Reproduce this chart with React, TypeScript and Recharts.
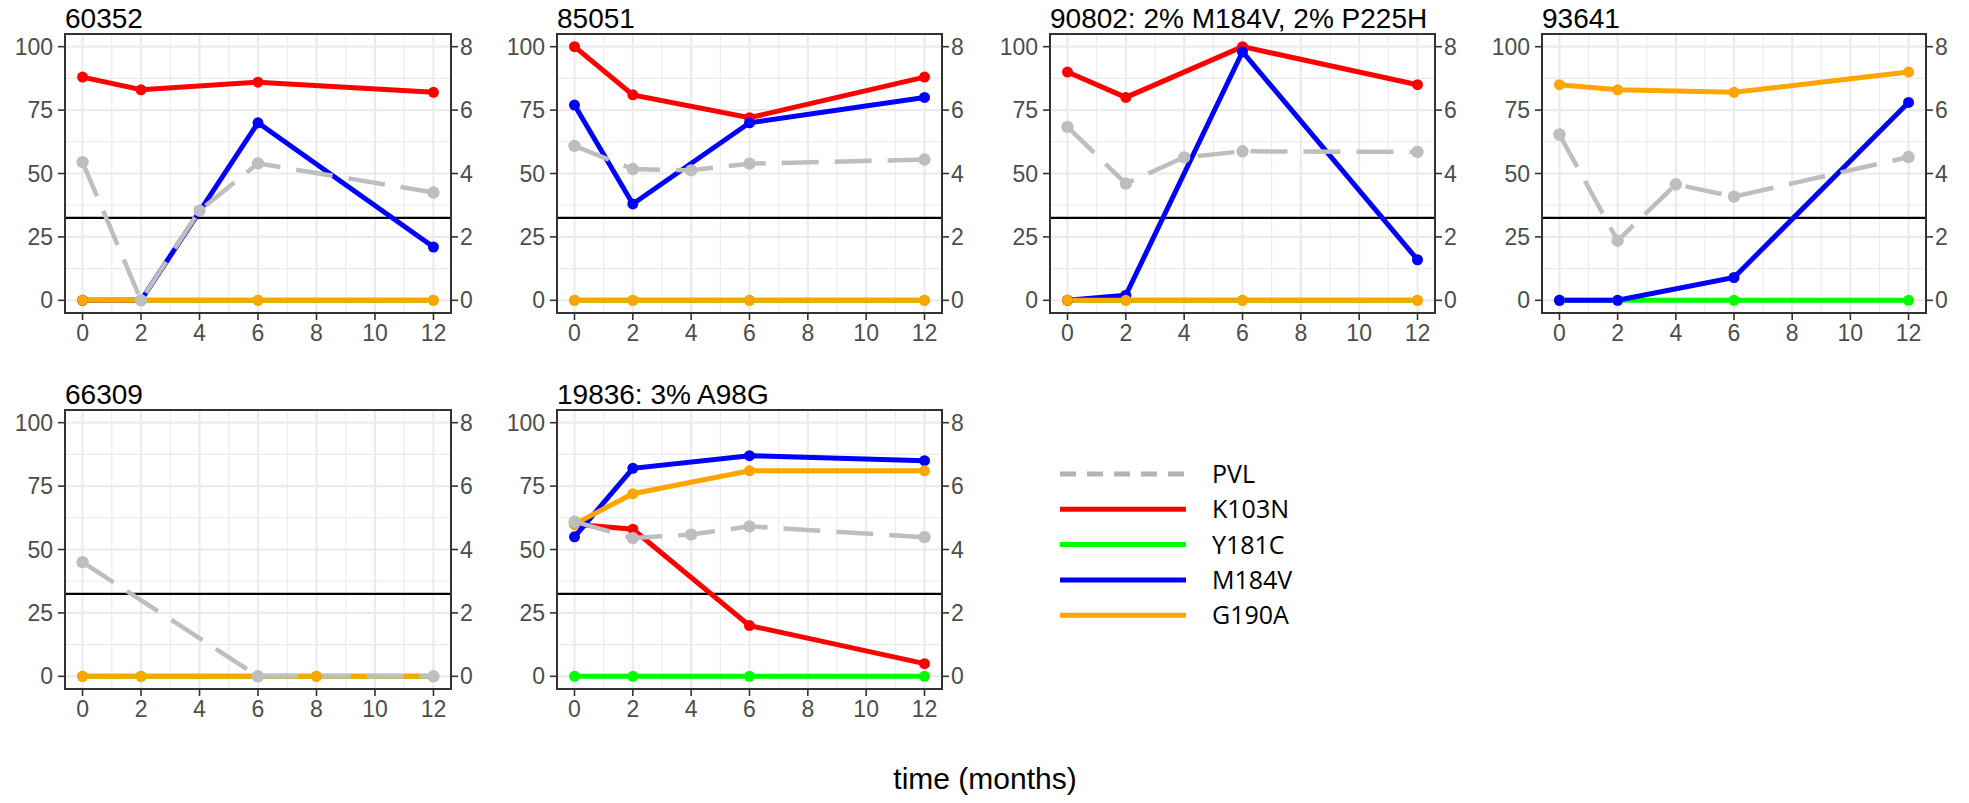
import React from 'react';
import { LineChart, Line, XAxis, YAxis, CartesianGrid, ReferenceLine } from 'recharts';

// one entry per panel, in reading order
const PANEL_TITLES = ['60352', '85051', '90802: 2% M184V, 2% P225H', '93641', '66309', '19836: 3% A98G'];

const TIMES = [
  [0, 2, 4, 6, 12],
  [0, 2, 4, 6, 12],
  [0, 2, 4, 6, 12],
  [0, 2, 4, 6, 12],
  [0, 2, 6, 8, 12],
  [0, 2, 4, 6, 12],
];

// log10 plasma viral load (right axis)
const PVL = [
  [4.36, 0, 2.83, 4.32, 3.4],
  [4.87, 4.14, 4.1, 4.31, 4.44],
  [5.47, 3.68, 4.51, 4.7, 4.68],
  [5.23, 1.88, 3.66, 3.27, 4.52],
  [3.6, null, 0, null, 0],
  [4.88, 4.36, 4.47, 4.73, 4.39],
];

// mutation frequencies in % (left axis)
const K103N = [
  [88, 83, null, 86, 82],
  [100, 81, null, 72, 88],
  [90, 80, null, 100, 85],
  [0, null, null, null, null],
  [null, null, null, null, null],
  [60, 58, null, 20, 5],
];
const Y181C = [
  [0, 0, null, 0, 0],
  [0, 0, null, 0, 0],
  [0, 0, null, 0, 0],
  [0, 0, null, 0, 0],
  [0, 0, 0, 0, 0],
  [0, 0, null, 0, 0],
];
const M184V = [
  [0, 0, null, 70, 21],
  [77, 38, null, 70, 80],
  [0, 2, null, 98, 16],
  [0, 0, null, 9, 78],
  [null, null, null, null, null],
  [55, 82, null, 87, 85],
];
const G190A = [
  [0, 0, null, 0, 0],
  [0, 0, null, 0, 0],
  [0, 0, null, 0, 0],
  [85, 83, null, 82, 90],
  [0, 0, 0, 0, 0],
  [60, 72, null, 81, 81],
];

const X_TICKS = [0, 2, 4, 6, 8, 10, 12];
const X_MINOR = [1, 3, 5, 7, 9, 11];
const PCT_TICKS = [0, 25, 50, 75, 100];
const PCT_MINOR = [12.5, 37.5, 62.5, 87.5];
const LOG_TICKS = [0, 2, 4, 6, 8];
const PVL_THRESHOLD = 2.6;

const MUTATIONS = [
  { key: 'K103N', values: K103N, color: '#ff0000' },
  { key: 'Y181C', values: Y181C, color: '#00ff00' },
  { key: 'M184V', values: M184V, color: '#0000ff' },
  { key: 'G190A', values: G190A, color: '#ffa500' },
];
const PVL_COLOR = '#bebebe';

const FONT = '"Liberation Sans", Arial, sans-serif';
const COL_LEFT = [65, 557, 1050, 1542];
const COL_WIDTH = [386, 385, 385, 384];
const ROW_TOP = [34, 410];
const PLOT_H = 279;
const AXIS_L = 70;
const AXIS_R = 45;
const AXIS_B = 45;

const tickStyle = { fill: '#4d4d4d', fontSize: 23, fontFamily: FONT };
const tickLine = { stroke: '#333333', strokeWidth: 1.6 };

function Panel({ index }: { index: number }) {
  const col = index % 4;
  const row = Math.floor(index / 4);
  const left = COL_LEFT[col];
  const top = ROW_TOP[row];
  const w = COL_WIDTH[col];

  const data = TIMES[index].map((t, i) => {
    const d: any = { time: t, PVL: PVL[index][i] };
    MUTATIONS.forEach((m) => {
      d[m.key] = m.values[index][i];
    });
    return d;
  });

  return (
    <>
      <div
        style={{
          position: 'absolute',
          left,
          top: top - 28.7,
          fontSize: 28,
          lineHeight: '28px',
          fontFamily: FONT,
          color: '#000',
          whiteSpace: 'nowrap',
        }}
      >
        {PANEL_TITLES[index]}
      </div>
      <div style={{ position: 'absolute', left: left - AXIS_L, top }}>
        <LineChart
          width={AXIS_L + w + AXIS_R}
          height={PLOT_H + AXIS_B}
          data={data}
          margin={{ top: 0, right: 0, bottom: 0, left: 0 }}
        >
          <CartesianGrid
            yAxisId="pct"
            stroke="#ebebeb"
            strokeWidth={1.1}
            horizontalValues={PCT_MINOR}
            verticalValues={X_MINOR}
          />
          <CartesianGrid
            yAxisId="pct"
            stroke="#ebebeb"
            strokeWidth={2.2}
            horizontalValues={PCT_TICKS}
            verticalValues={X_TICKS}
          />
          <XAxis
            dataKey="time"
            type="number"
            domain={[-0.6, 12.6]}
            ticks={X_TICKS}
            height={AXIS_B}
            axisLine={false}
            tickLine={tickLine}
            tickSize={7}
            tickMargin={5}
            tick={tickStyle}
            interval={0}
          />
          <YAxis
            yAxisId="pct"
            type="number"
            domain={[-5, 105]}
            ticks={PCT_TICKS}
            width={AXIS_L}
            axisLine={false}
            tickLine={tickLine}
            tickSize={7}
            tickMargin={5}
            tick={tickStyle}
            interval={0}
          />
          <YAxis
            yAxisId="log"
            orientation="right"
            type="number"
            domain={[-0.4, 8.4]}
            ticks={LOG_TICKS}
            width={AXIS_R}
            axisLine={false}
            tickLine={tickLine}
            tickSize={7}
            tickMargin={2}
            tick={tickStyle}
            interval={0}
          />
          <ReferenceLine yAxisId="log" y={PVL_THRESHOLD} stroke="#000" strokeWidth={2.2} />
          {MUTATIONS.map((m) => (
            <Line
              key={m.key}
              yAxisId="pct"
              dataKey={m.key}
              stroke={m.color}
              strokeWidth={5}
              dot={{ r: 5.5, fill: m.color, stroke: m.color, strokeWidth: 0 }}
              activeDot={false}
              connectNulls
              isAnimationActive={false}
            />
          ))}
          <Line
            yAxisId="log"
            dataKey="PVL"
            stroke={PVL_COLOR}
            strokeWidth={4.5}
            strokeDasharray="37 16"
            dot={{ r: 6.2, fill: PVL_COLOR, stroke: PVL_COLOR, strokeWidth: 0 }}
            activeDot={false}
            connectNulls
            isAnimationActive={false}
          />
        </LineChart>
      </div>
      <div
        style={{
          position: 'absolute',
          left: left - 1,
          top: top - 1,
          width: w + 2,
          height: PLOT_H + 2,
          border: '2px solid #333333',
          boxSizing: 'border-box',
          pointerEvents: 'none',
        }}
      />
    </>
  );
}

function SharedLegend() {
  const items = [
    { key: 'PVL', color: '#b3b3b3', dash: '16 11' },
    ...MUTATIONS.map((m) => ({ key: m.key, color: m.color, dash: undefined as string | undefined })),
  ];
  return (
    <svg style={{ position: 'absolute', left: 1040, top: 450 }} width={320} height={190}>
      {items.map((it, i) => {
        const y = 24 + i * 35.3;
        return (
          <g key={it.key}>
            <line x1={20} x2={146} y1={y} y2={y} stroke={it.color} strokeWidth={5} strokeDasharray={it.dash} />
            <text
              x={172}
              y={y + 9}
              fontSize={25}
              fontFamily='"Open Sans", "Noto Sans", sans-serif'
              fill="#000"
            >
              {it.key}
            </text>
          </g>
        );
      })}
    </svg>
  );
}

export default function App() {
  return (
    <div
      style={{
        position: 'absolute',
        left: 0,
        top: 0,
        width: 1969,
        height: 803,
        background: '#fff',
        overflow: 'hidden',
      }}
    >
      {PANEL_TITLES.map((_, i) => (
        <Panel key={i} index={i} />
      ))}
      <SharedLegend />
      <div
        style={{
          position: 'absolute',
          left: 985,
          top: 764,
          transform: 'translateX(-50%)',
          fontSize: 30,
          lineHeight: '30px',
          fontFamily: FONT,
          color: '#000',
          whiteSpace: 'nowrap',
        }}
      >
        time (months)
      </div>
    </div>
  );
}
